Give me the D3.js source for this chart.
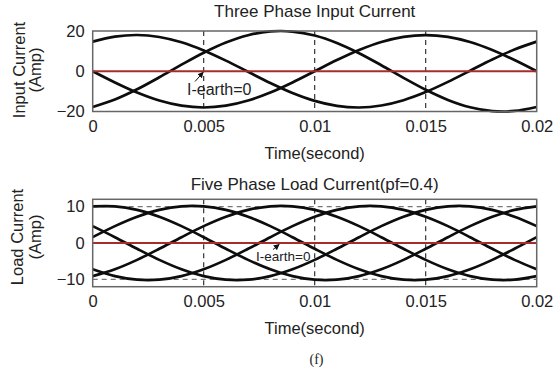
<!DOCTYPE html>
<html><head><meta charset="utf-8">
<script src="https://cdn.jsdelivr.net/npm/d3@7"></script>
<style>
body{margin:0;background:#fff;}
svg text{font-family:"Liberation Sans",Arial,Helvetica,sans-serif;fill:#222;}
</style></head><body>
<svg id="chart" width="557" height="368"></svg>
<script>
// ---------- data ----------
const timeSamples = [0,0.001,0.002,0.003,0.004,0.005,0.006,0.007,0.008,0.009,0.01,0.011,0.012,0.013,0.014,0.015,0.016,0.017,0.018,0.019,0.02];
const timeTicks = [0, 0.005, 0.01, 0.015, 0.02];
const timeTickLabels = ["0", "0.005", "0.01", "0.015", "0.02"];
const markerTimes = [0.005, 0.01, 0.015];

const inputTicks = [-20, 0, 20];
const inputPhaseA = [14.73,17.20,18.00,17.03,14.39,10.35,5.29,-0.28,-5.83,-10.81,-14.73,-17.20,-18.00,-17.03,-14.39,-10.35,-5.29,0.28,5.83,10.81,14.73];
const inputPhaseB = [0,-5.56,-10.58,-14.56,-17.12,-18.00,-17.12,-14.56,-10.58,-5.56,0,5.56,10.58,14.56,17.12,18.00,17.12,14.56,10.58,5.56,0];
const inputPhaseC = [-17.76,-14.04,-8.96,-2.99,3.27,9.20,14.24,17.88,19.78,19.73,17.76,14.04,8.96,2.99,-3.27,-9.20,-14.24,-17.88,-19.78,-19.73,-17.76];
const inputEarth = [0,0,0,0,0,0,0,0,0,0,0,0,0,0,0,0,0,0,0,0,0];

const loadTicks = [-10, 0, 10];
const loadLimits = [-10, 10];
const loadPhase1 = [1.60,4.63,7.21,9.09,10.07,10.07,9.09,7.21,4.63,1.60,-1.60,-4.63,-7.21,-9.09,-10.07,-10.07,-9.09,-7.21,-4.63,-1.60,1.60];
const loadPhase2 = [10.07,10.07,9.09,7.21,4.63,1.60,-1.60,-4.63,-7.21,-9.09,-10.07,-10.07,-9.09,-7.21,-4.63,-1.60,1.60,4.63,7.21,9.09,10.07];
const loadPhase3 = [4.63,1.60,-1.60,-4.63,-7.21,-9.09,-10.07,-10.07,-9.09,-7.21,-4.63,-1.60,1.60,4.63,7.21,9.09,10.07,10.07,9.09,7.21,4.63];
const loadPhase4 = [-7.21,-9.09,-10.07,-10.07,-9.09,-7.21,-4.63,-1.60,1.60,4.63,7.21,9.09,10.07,10.07,9.09,7.21,4.63,1.60,-1.60,-4.63,-7.21];
const loadPhase5 = [-9.09,-7.21,-4.63,-1.60,1.60,4.63,7.21,9.09,10.07,10.07,9.09,7.21,4.63,1.60,-1.60,-4.63,-7.21,-9.09,-10.07,-10.07,-9.09];
const loadEarth = [0,0,0,0,0,0,0,0,0,0,0,0,0,0,0,0,0,0,0,0,0];

// ---------- drawing ----------
const svg = d3.select("#chart");
const FS = 16.5;
svg.append("defs").append("marker")
  .attr("id","arrow").attr("viewBox","0 0 10 10").attr("refX",9).attr("refY",5)
  .attr("markerWidth",6).attr("markerHeight",6).attr("markerUnits","userSpaceOnUse")
  .attr("orient","auto")
  .append("path").attr("d","M0,0 L10,5 L0,10 z").attr("fill","#111");

const x = d3.scaleLinear().domain([0, 0.02]).range([92.7, 536.7]);

function panel(cfg) {
  const y = d3.scaleLinear().domain(cfg.domain).range([cfg.bottom, cfg.top]);
  const g = svg.append("g");
  // frame background
  g.append("rect").attr("x", x(0)).attr("y", cfg.top)
    .attr("width", x(0.02) - x(0)).attr("height", cfg.bottom - cfg.top)
    .attr("fill", "#fff");
  // horizontal dashed limits
  (cfg.limits || []).forEach(v => {
    g.append("line").attr("x1", x(0)).attr("x2", x(0.02))
      .attr("y1", y(v)).attr("y2", y(v))
      .attr("stroke", "#777").attr("stroke-width", 1.2).attr("stroke-dasharray", "5,4");
  });
  // vertical dashed markers
  markerTimes.forEach(t => {
    g.append("line").attr("x1", x(t)).attr("x2", x(t))
      .attr("y1", cfg.top).attr("y2", cfg.bottom)
      .attr("stroke", "#222").attr("stroke-width", 1.1).attr("stroke-dasharray", "5,4");
  });
  const line = d3.line().x((d, i) => x(timeSamples[i])).y(d => y(d)).curve(d3.curveCatmullRom);
  cfg.series.forEach(s => {
    g.append("path").attr("d", line(s)).attr("fill", "none")
      .attr("stroke", "#0d0d0d").attr("stroke-width", 2.7);
  });
  g.append("path").attr("d", line(cfg.earth)).attr("fill", "none")
    .attr("stroke", "#a82c2c").attr("stroke-width", 2);
  // frame
  g.append("rect").attr("x", x(0)).attr("y", cfg.top)
    .attr("width", x(0.02) - x(0)).attr("height", cfg.bottom - cfg.top)
    .attr("fill", "none").attr("stroke", "#666").attr("stroke-width", 1.5);
  // axes
  const xa = g.append("g").attr("transform", `translate(0,${cfg.bottom})`)
    .call(d3.axisBottom(x).tickValues(timeTicks).tickFormat((d, i) => timeTickLabels[i])
      .tickSizeInner(0).tickSizeOuter(0).tickPadding(8.5));
  const ya = g.append("g").attr("transform", `translate(${x(0)},0)`)
    .call(d3.axisLeft(y).tickValues(cfg.ticks).tickFormat(d3.format("d"))
      .tickSizeInner(0).tickSizeOuter(0).tickPadding(8));
  [xa, ya].forEach(a => {
    a.select(".domain").remove();
    a.selectAll("text").attr("font-size", FS).attr("fill", "#222")
      .style("font-family", '"Liberation Sans",Arial,sans-serif');
  });
  // title
  g.append("text").attr("x", (x(0) + x(0.02)) / 2).attr("y", cfg.titleY)
    .attr("text-anchor", "middle").attr("font-size", 17).text(cfg.title);
  // x label
  g.append("text").attr("x", (x(0) + x(0.02)) / 2).attr("y", cfg.xlabelY)
    .attr("text-anchor", "middle").attr("font-size", FS).text("Time(second)");
  // y label two lines
  cfg.ylabel.forEach((txt, i) => {
    g.append("text")
      .attr("transform", `translate(${cfg.ylabelX[i]},${cfg.ylabelCY}) rotate(-90)`)
      .attr("text-anchor", "middle").attr("font-size", FS).text(txt);
  });
  // annotation
  const a = cfg.annot;
  g.append("line").attr("x1", a.tail[0]).attr("y1", a.tail[1])
    .attr("x2", x(a.at) + a.head[0]).attr("y2", y(0) + a.head[1])
    .attr("stroke", "#111").attr("stroke-width", 1).attr("marker-end", "url(#arrow)");
  g.append("text").attr("x", a.textX).attr("y", a.textY)
    .attr("font-size", a.size).text("I-earth=0");
  return y;
}

panel({
  domain: [-20, 20], top: 31, bottom: 111.5, ticks: inputTicks,
  series: [inputPhaseA, inputPhaseB, inputPhaseC], earth: inputEarth,
  title: "Three Phase Input Current", titleY: 16.5, xlabelY: 158.5,
  ylabel: ["Input Current", "(Amp)"], ylabelX: [24.5, 41], ylabelCY: 70,
  annot: {at: 0.005, head: [-0.5, 1], tail: [195, 81.5], textX: 187, textY: 95, size: 16}
});

panel({
  domain: [-12, 12], top: 199.3, bottom: 286.7, ticks: loadTicks, limits: loadLimits,
  series: [loadPhase1, loadPhase2, loadPhase3, loadPhase4, loadPhase5], earth: loadEarth,
  title: "Five Phase Load Current(pf=0.4)", titleY: 189.5, xlabelY: 333.5,
  ylabel: ["Load Current", "(Amp)"], ylabelX: [22.5, 41], ylabelCY: 237,
  annot: {at: 0.0084, head: [0, 1.5], tail: [273, 249.5], textX: 256, textY: 261, size: 13.5}
});

svg.append("text").attr("x", 316.5).attr("y", 363.5).attr("text-anchor", "middle")
  .attr("font-size", 14).style("font-family", '"Liberation Serif","Times New Roman",serif')
  .text("(f)");
</script>
</body></html>
